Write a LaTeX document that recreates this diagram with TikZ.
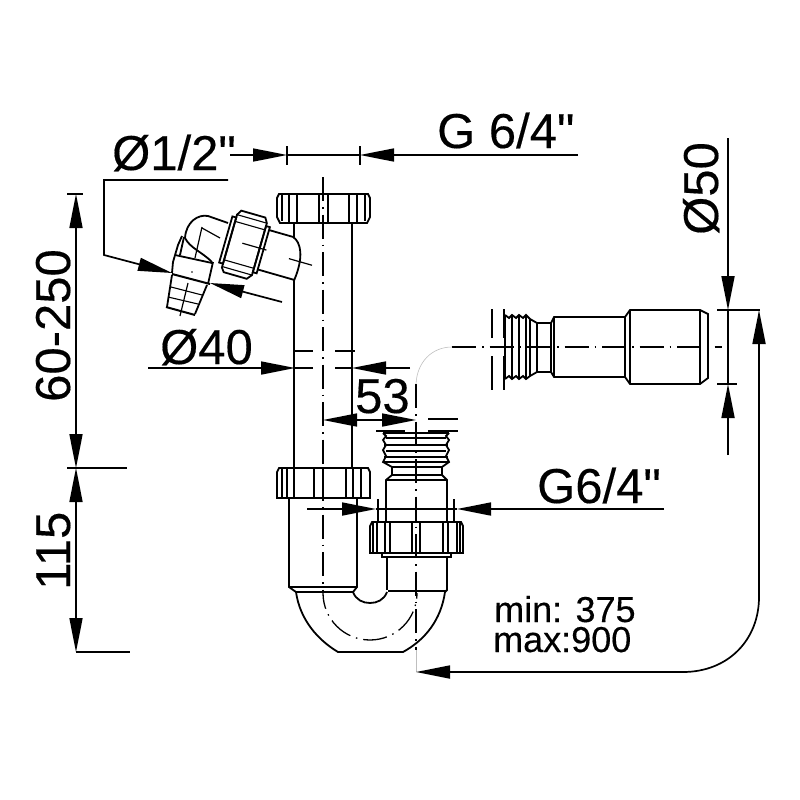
\documentclass[tikz,border=0pt]{standalone}
\usepackage{fontspec}
\newfontfamily\labelfont[FakeBold=0.3]{Liberation Sans}
\usetikzlibrary{arrows.meta}
\tikzset{
  part/.style={line width=1.8pt, line join=miter},
  rib/.style={line width=1.1pt},
  dimline/.style={line width=1.7pt},
  extline/.style={line width=1.2pt},
  axisline/.style={line width=1.3pt, dash pattern=on 24pt off 6pt on 1.5pt off 6pt},
  leadline/.style={line width=.6pt, gray!50},
  tipline/.style={dimline, -{Triangle[length=34pt,width=13pt]}},
  bigtext/.style={inner sep=0pt, anchor=base west, font=\labelfont\fontsize{49}{49}\selectfont},
  smalltext/.style={inner sep=0pt, anchor=base west, font=\labelfont\fontsize{36}{36}\selectfont},
}
\begin{document}
\begin{tikzpicture}[x=1pt, y=-1pt]
\useasboundingbox (0,0) rectangle (800,800);

%% labels
\node[bigtext] (halfinch) at (112,170) {Ø1/2"};
\node[bigtext] (topthread) at (437,148) {G 6/4"};
\node[bigtext] (pipedia) at (160,364) {Ø40};
\node[bigtext] (offset) at (355,413) {53};
\node[bigtext] (lowthread) at (537,503) {G6/4"};
\node[bigtext, rotate=90] (walldia) at (718,235) {Ø50};
\node[bigtext, rotate=90] (upperheight) at (70,402) {60-250};
\node[bigtext, rotate=90] (lowerheight) at (70,590) {115};
\node[smalltext] (minreach) at (494,622) {min: 375};
\node[smalltext] (maxreach) at (493,652) {max:900};

%% center lines
\draw[axisline] (323,177) -- (323,592);
\draw[axisline] (416,384) -- (416,650);
\draw[axisline] (452,347) -- (722,347);
\draw[axisline, dash phase=8pt] (323,593) arc (180:0:47);
\draw[leadline] (416,650) -- (416,672);
\draw[leadline] (416,384) .. controls (417,362) and (432,347) .. (452,347);

%% vertical pipe
\draw[part] (294,224) -- (294,237);
\draw[part] (294,280) -- (294,468);
\draw[part] (352,224) -- (352,468);
\draw[extline] (293,351) -- (313,351) (335,351) -- (355,351);

%% top nut
\draw[part] (279,194) -- (368,194) -- (370,198) -- (370,217) -- (367,223) -- (280,223) -- (277,217) -- (277,198) -- cycle;
\draw[rib] (282,194) -- (282,221) (289,194) -- (289,223) (297,194) -- (297,223);
\draw[rib] (319,194) -- (319,223) (328,194) -- (328,223);
\draw[rib] (349,194) -- (349,223) (357,194) -- (357,223) (365,194) -- (365,221);

%% lower nut
\draw[part] (279,468) -- (368,468) -- (370,472) -- (370,498) -- (277,498) -- (277,472) -- cycle;
\draw[rib] (282,468) -- (282,498) (287,468) -- (287,498) (294,468) -- (294,498);
\draw[rib] (314,468) -- (314,498) (323,468) -- (323,498);
\draw[rib] (346,468) -- (346,498) (353,468) -- (353,498) (361,468) -- (361,498);

%% trap
\draw[part] (289,498) -- (289,587) -- (296,592);
\draw[part] (357,498) -- (357,587) -- (353,592);
\draw[part] (289,587) -- (357,587);
\draw[dimline, line width=2pt] (296,592) -- (353,592);
\draw[part] (296,592) .. controls (300,620) and (318,640) .. (338,652) -- (403,652) .. controls (425,640) and (441,620) .. (445,592);
\draw[part] (353,592) .. controls (356,600) and (363,603) .. (370,603) .. controls (377,603) and (384,600) .. (387,592);
\draw[part] (387,557) -- (387,590);
\draw[part] (447,557) -- (447,590) -- (445,592);
\draw[dimline, line width=2pt] (388,591) -- (446,591);

%% right nut
\draw[part] (372,522) -- (461,522) -- (463,526) -- (463,553) -- (370,553) -- (370,526) -- cycle;
\draw[rib] (373,522) -- (373,553) (377,522) -- (377,553) (385,522) -- (385,553) (390,522) -- (390,553);
\draw[rib] (412,522) -- (412,553) (420,522) -- (420,553);
\draw[rib] (443,522) -- (443,553) (448,522) -- (448,553) (457,522) -- (457,553) (460,522) -- (460,553);
\draw[part] (382,553) -- (382,557) -- (451,557) -- (451,553);

%% threaded inlet
\draw[part] (386,522) -- (386,480) -- (392,475) -- (392,467) -- (383,462) -- (386,456) -- (383,450) -- (386,445) -- (383,440) -- (386,436) -- (383,433);
\draw[part] (447,522) -- (447,480) -- (442,475) -- (442,467) -- (449,462) -- (446,456) -- (449,450) -- (446,445) -- (449,440) -- (446,436) -- (449,433);
\draw[rib] (383,433) -- (449,433) (386,438) -- (446,438) (384,445) -- (448,445) (386,451) -- (446,451) (384,457) -- (448,457) (383,462) -- (449,462);
\draw[rib] (392,467) -- (442,467) (392,475) -- (442,475) (386,480) -- (447,480);
\draw[part] (376,431) -- (405,431) (428,431) -- (458,431);
\draw[part] (428,419) -- (458,419);

%% side outlet
\draw[part] (505,315) -- (509,318) -- (512,315) -- (516,318) -- (519,315) -- (523,318) -- (526,315) -- (530,319) -- (537,323) -- (551,323) -- (554,317) -- (625,317) -- (630,310) -- (700,310) -- (708,314) -- (708,378) -- (700,384) -- (630,384) -- (625,377) -- (554,377) -- (551,372) -- (537,372) -- (530,376) -- (526,379) -- (523,376) -- (519,379) -- (516,376) -- (512,379) -- (509,376) -- (505,379);
\draw[rib] (505,315) -- (505,379) (512,315) -- (512,379) (519,315) -- (519,379) (526,315) -- (526,379) (530,319) -- (530,376);
\draw[rib] (537,323) -- (537,372) (551,323) -- (551,372) (554,317) -- (554,377);
\draw[part] (625,317) -- (625,377) (630,310) -- (630,384) (700,310) -- (700,384);
\draw[extline] (492,309) -- (492,338) (492,356) -- (492,390);
\draw[extline] (504,309) -- (504,338) (504,356) -- (504,390);

%% elbow with hose tail
\draw[part] (228,223) -- (208,216) .. controls (198,214) and (186,222) .. (185,238) .. controls (190,248) and (202,252) .. (212,262);
\draw[part] (182,236) -- (178,245) -- (173,262) -- (172,273);
\draw[part] (184,237) -- (180,255);
\draw[part] (213,262) -- (208,284);
\draw[part] (175,255) -- (212,263);
\draw[part] (172,275) -- (167,307) (207,285) -- (195,314);
\draw[rib] (171,287) -- (202,295) (168,297) -- (198,304);
\draw[dimline, line width=2pt] (166,307) -- (195,315);
\draw[extline] (202,227) -- (195,258);
\draw[extline] (188,283) -- (180,316);
\draw[extline] (202,228) -- (220,238);
\fill (192,272) circle (.8pt);

%% elbow union, turned with the branch
\begin{scope}[shift={(245,245)}, rotate=-16]
\draw[part] (-13,-32) -- (12,-32) -- (15,-27) -- (15,27) -- (11,32) -- (-13,32) -- (-16,28) -- (-16,-27) -- cycle;
\draw[rib] (-16,-27) -- (15,-27) (-16,-20) -- (15,-20) (-16,20) -- (15,20) (-16,27) -- (15,27);
\draw[part] (-20,-24) rectangle (-16,24);
\draw[part] (15,-24) rectangle (19,24);
\draw[part] (19,-21) -- (44,-21) .. controls (53,-18) and (60,-5) .. (57,20) -- (19,20);
\draw[extline] (-3,-1) -- (22,-1);
\draw[extline] (46,1) -- (70,1);
\end{scope}

%% dimensions at the top
\draw[tipline] (230,155) -- (287,155);
\draw[tipline] (578,155) -- (360,155);
\draw[extline] (287,155) -- (360,155);
\draw[extline] (287,146) -- (287,165) (360,146) -- (360,165);
\draw[tipline] (228,180) -- (104,180) -- (104,255) -- (172,273);
\draw[tipline] (282,302) -- (210,283);
\draw[dimline, line width=2pt] (172,274) -- (210,284);

%% dimensions at the pipe
\draw[tipline] (148,368) -- (295,368);
\draw[tipline] (410,368) -- (352,368);
\draw[extline] (295,368) -- (313,368) (335,368) -- (352,368);
\draw[tipline] (380,420) -- (323,420);
\draw[tipline] (358,420) -- (416,420);
\draw[tipline] (307,509) -- (376,509);
\draw[tipline] (664,509) -- (457,509);
\draw[dimline] (376,509) -- (457,509);
\draw[extline] (378,499) -- (378,522) (454,499) -- (454,522);

%% height dimensions
\draw[tipline] (76,300) -- (76,194);
\draw[tipline] (76,300) -- (76,468);
\draw[tipline] (76,550) -- (76,468);
\draw[tipline] (76,550) -- (76,652);
\draw[extline] (67,194) -- (83,194);
\draw[extline] (67,468) -- (127,468);
\draw[extline] (76,652) -- (130,652);

%% outlet dimensions
\draw[tipline] (728,138) -- (728,310);
\draw[tipline] (728,455) -- (728,384);
\draw[extline] (728,310) -- (728,384);
\draw[extline] (717,310) -- (760,310) (717,384) -- (737,384);
\draw[tipline] (683,672) .. controls (728,672) and (759,640) .. (759,597) -- (759,310);
\draw[tipline] (683,672) -- (416,672);

\end{tikzpicture}
\end{document}
